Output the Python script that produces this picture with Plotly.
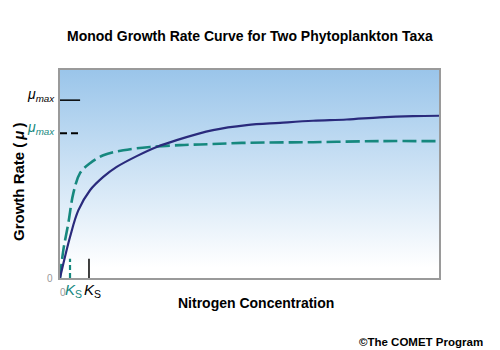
import plotly.graph_objects as go

# Data (x: nitrogen concentration, arbitrary 0-100; y: growth rate, 0-1)
navy_x = [0, 2.64, 4.83, 7.92, 11.42, 14.96, 20.24, 25.51, 30.79, 40.37, 49.26, 58.05, 66.75, 75.65, 84.43, 93.14, 100]
navy_y = [0, 0.197, 0.325, 0.422, 0.486, 0.534, 0.586, 0.630, 0.663, 0.711, 0.735, 0.746, 0.756, 0.762, 0.772, 0.778, 0.780]
teal_x = [0, 0.87, 2.19, 3.51, 5.28, 7.92, 11.42, 16.70, 23.75, 31.66, 36.94, 49.26, 66.75, 84.43, 99.4]
teal_y = [0, 0.133, 0.263, 0.407, 0.504, 0.552, 0.590, 0.614, 0.630, 0.639, 0.642, 0.650, 0.653, 0.658, 0.658]
mu_max = [0.855, 0.696]      # navy taxon, teal taxon
k_s = [7.65, 2.64]           # navy taxon, teal taxon
x_range = [0, 100]
y_range = [0, 1]

NAVY = "#2a2a7c"
TEAL = "#16887e"
FONT = "Liberation Sans, Arial, sans-serif"

fig = go.Figure()

# gradient background
fig.add_trace(go.Scatter(
    x=x_range, y=[y_range[1], y_range[1]], mode="lines", line=dict(width=0),
    fill="tozeroy",
    fillgradient=dict(type="vertical", start=y_range[0], stop=y_range[1],
                      colorscale=[[0, "#ffffff"], [0.05, "#ffffff"], [1, "#9ac5ea"]]),
    hoverinfo="skip", showlegend=False))

fig.add_trace(go.Scatter(x=teal_x, y=teal_y, mode="lines",
                         line=dict(color=TEAL, width=2.6, dash="14px,5px", shape="spline"),
                         showlegend=False))
fig.add_trace(go.Scatter(x=navy_x, y=navy_y, mode="lines",
                         line=dict(color=NAVY, width=2.2, shape="spline"),
                         showlegend=False))

shapes = []
# mu_max ticks on y axis
shapes.append(dict(type="line", xref="x", yref="y", x0=0, x1=5.3, y0=mu_max[0], y1=mu_max[0],
                   line=dict(color="black", width=1.5)))
shapes.append(dict(type="line", xref="x", yref="y", x0=0, x1=5.5, y0=mu_max[1], y1=mu_max[1],
                   line=dict(color="black", width=2, dash="7px,4px")))
# K_s ticks on x axis
shapes.append(dict(type="line", xref="x", yref="y", x0=k_s[0], x1=k_s[0], y0=0, y1=0.092,
                   line=dict(color="black", width=1.5)))
shapes.append(dict(type="line", xref="x", yref="y", x0=k_s[1], x1=k_s[1], y0=0, y1=0.092,
                   line=dict(color=TEAL, width=2.2, dash="5px,3px")))

ann = []
def mu_label(y, color):
    return dict(xref="paper", yref="y", x=-0.008, y=y, xanchor="right", yanchor="bottom",
                showarrow=False, yshift=-6,
                text="<i>μ</i><sub><i>max</i></sub>",
                font=dict(family=FONT, size=14, color=color))
ann.append(mu_label(mu_max[0], "black"))
ann.append(mu_label(mu_max[1], TEAL))
ann.append(dict(xref="paper", yref="y", x=-0.012, y=0, xanchor="right", yanchor="middle",
                showarrow=False, text="0", font=dict(family=FONT, size=10, color="#999999")))
ann.append(dict(xref="x", yref="paper", x=0, y=0, xanchor="left", yanchor="top", xshift=-2, yshift=-7,
                showarrow=False, text="0", font=dict(family=FONT, size=10, color="#999999")))
def ks_label(x, color):
    return dict(xref="x", yref="paper", x=x, y=0, xanchor="center", yanchor="top", yshift=-1,
                showarrow=False, text="<i>K</i><sub>S</sub>",
                font=dict(family=FONT, size=15, color=color))
ann.append(ks_label(k_s[1] + 1.0, TEAL))
ann.append(ks_label(k_s[0] + 1.0, "black"))

ann.append(dict(xref="paper", yref="paper", x=-0.11, y=0.463, xanchor="center", yanchor="middle",
                textangle=-90, showarrow=False,
                text="<b>Growth Rate (\u2009</b><b><i>μ</i></b><b>\u2009)</b>",
                font=dict(family=FONT, size=15, color="black")))
ann.append(dict(xref="paper", yref="paper", x=0.518, y=0, xanchor="center", yanchor="top", yshift=-15,
                showarrow=False, text="<b>Nitrogen Concentration</b>",
                font=dict(family=FONT, size=14, color="black")))
ann.append(dict(xref="paper", yref="paper", x=0.5, y=1, xanchor="center", yanchor="bottom", yshift=24,
                showarrow=False, text="<b>Monod Growth Rate Curve for Two Phytoplankton Taxa</b>",
                font=dict(family=FONT, size=14, color="black")))
ann.append(dict(xref="paper", yref="paper", x=1.121, y=0, xanchor="right", yanchor="top", yshift=-56,
                showarrow=False, text="<b>©The COMET Program</b>",
                font=dict(family=FONT, size=11.5, color="black")))

fig.update_layout(
    width=500, height=350,
    margin=dict(l=60, r=61, t=70, b=72),
    paper_bgcolor="white", plot_bgcolor="white",
    shapes=shapes, annotations=ann,
    xaxis=dict(range=x_range, showgrid=False, zeroline=False, showticklabels=False, ticks="",
               showline=True, mirror=True, linecolor="#9a9a9a", linewidth=2),
    yaxis=dict(range=y_range, showgrid=False, zeroline=False, showticklabels=False, ticks="",
               showline=True, mirror=True, linecolor="#9a9a9a", linewidth=2),
)

fig.write_html("out.html")
